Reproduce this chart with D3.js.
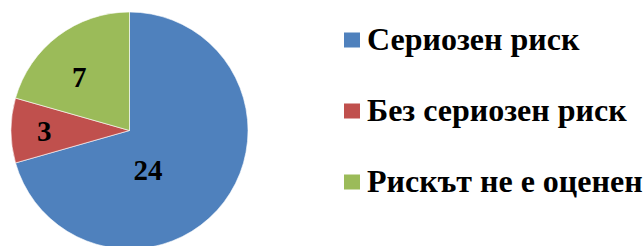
<!DOCTYPE html>
<html>
<head>
<meta charset="utf-8">
<script src="https://cdn.jsdelivr.net/npm/d3@7"></script>
<style>
  html, body { margin: 0; padding: 0; background: #fff; }
  svg { display: block; }
</style>
</head>
<body>
<svg id="chart" width="644" height="246"></svg>
<script>
const categories = ["Сериозен риск", "Без сериозен риск", "Рискът не е оценен"];
const values = [24, 3, 7];
const colors = ["#4F81BD", "#C0504D", "#9BBB59"];

const width = 644;
const height = 246;
const cx = 129.5, cy = 130.5, radius = 118.5;
const font = "'Times New Roman', 'Liberation Serif', serif";

const svg = d3.select("#chart");

const pie = d3.pie().sort(null).value(d => d);
const arcs = pie(values);
const arc = d3.arc().innerRadius(0).outerRadius(radius);

const g = svg.append("g").attr("transform", `translate(${cx},${cy})`);

g.selectAll("path")
  .data(arcs)
  .join("path")
  .attr("d", arc)
  .attr("fill", (d, i) => colors[i])
  .attr("stroke", "#fff")
  .attr("stroke-width", 0.6);

// label placement (Excel "best fit"): radius fraction + angle shift in degrees
const labelFrac = [0.37, 0.72, 0.62];
const labelShift = [28, 0, -6];

g.selectAll("text")
  .data(arcs)
  .join("text")
  .attr("transform", (d, i) => {
    const a = (d.startAngle + d.endAngle) / 2 + labelShift[i] * Math.PI / 180;
    const r = radius * labelFrac[i];
    return `translate(${r * Math.sin(a)},${-r * Math.cos(a)})`;
  })
  .attr("text-anchor", "middle")
  .attr("dy", "0.35em")
  .attr("font-family", font)
  .attr("font-weight", "bold")
  .attr("font-size", 29)
  .attr("fill", "#000")
  .text(d => d.data);

// legend
const legendY = d3.scalePoint().domain(categories).range([40, 182]);

const legend = svg.append("g");
const rows = legend.selectAll("g")
  .data(categories)
  .join("g")
  .attr("transform", d => `translate(344,${legendY(d)})`);

rows.append("rect")
  .attr("x", 0)
  .attr("y", -7.5)
  .attr("width", 16)
  .attr("height", 15)
  .attr("fill", (d, i) => colors[i]);

rows.append("text")
  .attr("x", 23)
  .attr("y", 10)
  .attr("font-family", font)
  .attr("font-weight", "bold")
  .attr("font-size", 32)
  .attr("fill", "#000")
  .text(d => d);
</script>
</body>
</html>
